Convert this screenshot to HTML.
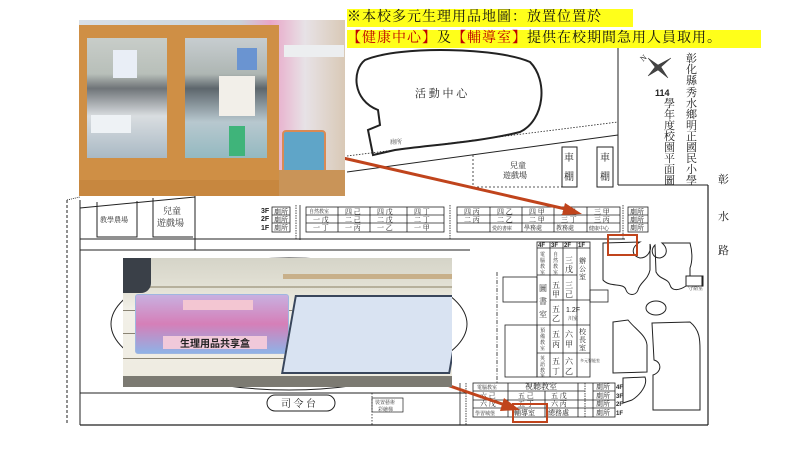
<!DOCTYPE html>
<html><head><meta charset="utf-8"><style>
html,body{margin:0;padding:0;background:#fff;}
body{width:800px;height:450px;position:relative;overflow:hidden;font-family:"Liberation Sans","Noto Sans CJK TC",sans-serif;}
svg{position:absolute;left:0;top:0;}
.hl{position:absolute;background:#ffff1a;font-family:"Liberation Serif","Noto Serif CJK SC",serif;font-size:14px;line-height:18px;color:#111;white-space:nowrap;letter-spacing:1px;}
.r{color:#c00000;}
.b{position:absolute;}
</style></head><body>
<svg width="800" height="450" viewBox="0 0 800 450" font-family="Liberation Serif, Noto Serif CJK SC, serif" fill="none" stroke="#222">
<path d="M365 60 C400 45,500 48,530 62 C548 80,545 120,520 132 C480 142,430 145,395 150 L373 155 L368 130 L380 125 L378 110 C352 100,352 70,365 60 Z" stroke-width="2"/>
<text x="415" y="97" font-size="11" fill="#222" stroke="none">活 動 中 心</text>
<text x="390" y="144" font-size="6" fill="#444" stroke="none">廁所</text>
<line x1="347" y1="156" x2="618" y2="122" stroke-dasharray="1.5,1.5" stroke-width="0.8"/>
<line x1="347" y1="172" x2="618" y2="135" stroke-width="1"/>
<line x1="618" y1="48" x2="618" y2="185" stroke-width="1"/>
<line x1="618" y1="185" x2="708" y2="185" stroke-width="1"/>
<line x1="708" y1="185" x2="708" y2="425" stroke-width="1.2"/>
<path d="M473 155 L473 187 L562 187" stroke-dasharray="2,2" stroke-width="0.8"/>
<text x="510" y="168" font-size="8" fill="#222" stroke="none">兒童</text>
<text x="503" y="178" font-size="8" fill="#222" stroke="none">遊戲場</text>
<rect x="562" y="147" width="15" height="40" stroke-width="1"/>
<rect x="597" y="147" width="16" height="40" stroke-width="1"/>
<text x="564" y="161" font-size="10" fill="#222" stroke="none">車</text>
<text x="564" y="180" font-size="10" fill="#222" stroke="none">棚</text>
<text x="600" y="161" font-size="10" fill="#222" stroke="none">車</text>
<text x="600" y="180" font-size="10" fill="#222" stroke="none">棚</text>
<g stroke="#333" fill="#444"><path d="M648 58 L658 65 L671 58 L661 67 L668 78 L658 70 L648 76 L655 67 Z" stroke-width="0.5"/></g>
<text x="640" y="60" font-size="8" fill="#222" stroke="none" transform="rotate(-40 644 57)">N</text>
<g font-size="11" fill="#222" stroke="none">
<text x="686" y="62">彰</text><text x="686" y="73">化</text><text x="686" y="84">縣</text><text x="686" y="96">秀</text><text x="686" y="107">水</text><text x="686" y="118">鄉</text><text x="686" y="129">明</text><text x="686" y="140">正</text><text x="686" y="151">國</text><text x="686" y="162">民</text><text x="686" y="173">小</text><text x="686" y="184">學</text>
<text x="655" y="96" font-family="Liberation Sans" font-weight="bold" font-size="9">114</text>
<text x="664" y="107">學</text><text x="664" y="118">年</text><text x="664" y="129">度</text><text x="664" y="140">校</text><text x="664" y="151">園</text><text x="664" y="162">平</text><text x="664" y="173">面</text><text x="664" y="184">圖</text>
<text x="718" y="183">彰</text><text x="718" y="220">水</text><text x="718" y="254">路</text>
</g>
<line x1="67" y1="200" x2="67" y2="425" stroke-dasharray="3,2" stroke-width="1"/>
<line x1="67" y1="200" x2="80" y2="197" stroke-dasharray="1,1" stroke-width="0.8"/>
<line x1="80" y1="208" x2="195" y2="197" stroke-width="1"/>
<line x1="80" y1="200" x2="80" y2="425" stroke-width="1"/>
<line x1="195" y1="195" x2="195" y2="250" stroke-width="1"/>
<line x1="80" y1="425" x2="708" y2="425" stroke-width="1.2"/>
<line x1="80" y1="250" x2="470" y2="250" stroke-width="1"/>
<line x1="80" y1="239" x2="625" y2="239" stroke-width="1"/>
<line x1="80" y1="393" x2="470" y2="393" stroke-width="1"/>
<path d="M97 202 L97 237 L137 237 L137 201" stroke-width="1"/>
<path d="M153 198 L153 237 L193 237" stroke-width="1"/>
<text x="100" y="222" font-size="7" fill="#333" stroke="none">教學農場</text>
<text x="163" y="214" font-size="9" fill="#333" stroke="none">兒童</text>
<text x="157" y="226" font-size="9" fill="#333" stroke="none">遊戲場</text>
<ellipse cx="289" cy="324" rx="178" ry="66" stroke-width="1"/>
<line x1="372" y1="393" x2="372" y2="425" stroke-dasharray="1.5,1.5" stroke-width="0.8"/>
<rect x="267" y="395" width="68" height="16" rx="8" stroke-width="1"/>
<text x="281" y="407" font-size="10" fill="#222" stroke="none">司 令 台</text>
<rect x="372" y="398" width="31" height="14" stroke-width="0.7"/>
<text x="375" y="404" font-size="5" fill="#333" stroke="none">裝置藝術</text>
<text x="378" y="411" font-size="5" fill="#333" stroke="none">彩繪梯</text>
<g font-size="7" fill="#222" stroke="none" font-family="Liberation Sans" font-weight="bold">
<text x="261" y="213">3F</text><text x="261" y="221">2F</text><text x="261" y="230">1F</text></g>
<g stroke-width="0.8">
<rect x="272" y="207" width="18" height="25"/>
<line x1="272" y1="215" x2="290" y2="215"/><line x1="272" y1="223" x2="290" y2="223"/>
<line x1="296" y1="205" x2="296" y2="240" stroke-dasharray="1.5,1"/>
<line x1="300" y1="205" x2="300" y2="240"/>
<rect x="306" y="207" width="138" height="25"/>
<line x1="306" y1="215" x2="444" y2="215"/><line x1="306" y1="223" x2="444" y2="223"/>
<line x1="338" y1="207" x2="338" y2="232"/><line x1="370" y1="207" x2="370" y2="232"/><line x1="407" y1="207" x2="407" y2="232"/>
<line x1="450" y1="205" x2="450" y2="240" stroke-dasharray="1.5,1"/>
<rect x="457" y="207" width="163" height="25"/>
<line x1="457" y1="215" x2="620" y2="215"/><line x1="457" y1="223" x2="620" y2="223"/>
<line x1="490" y1="207" x2="490" y2="232"/><line x1="522" y1="207" x2="522" y2="232"/><line x1="554" y1="207" x2="554" y2="232"/><line x1="587" y1="207" x2="587" y2="232"/>
<line x1="623" y1="205" x2="623" y2="240" stroke-dasharray="1.5,1"/>
<rect x="628" y="207" width="20" height="25"/>
<line x1="628" y1="215" x2="648" y2="215"/><line x1="628" y1="223" x2="648" y2="223"/>
</g>
<g font-size="7" fill="#222" stroke="none">
<text x="274" y="214">廁所</text><text x="274" y="222">廁所</text><text x="274" y="230">廁所</text>
<text x="309" y="213" font-size="5">自然教室</text><text x="345" y="214">四 己</text><text x="377" y="214">四 戊</text><text x="414" y="214">四 丁</text>
<text x="313" y="222">一 戊</text><text x="345" y="222">二 己</text><text x="377" y="222">二 戊</text><text x="414" y="222">二 丁</text>
<text x="313" y="230">一 丁</text><text x="345" y="230">一 丙</text><text x="377" y="230">一 乙</text><text x="414" y="230">一 甲</text>
<text x="464" y="214">四 丙</text><text x="497" y="214">四 乙</text><text x="529" y="214">四 甲</text><text x="561" y="214">三 乙</text><text x="594" y="214">三 甲</text>
<text x="464" y="222">二 丙</text><text x="497" y="222">二 乙</text><text x="529" y="222">二 甲</text><text x="561" y="222">三 丁</text><text x="594" y="222">三 丙</text>
<text x="492" y="230" font-size="5">愛的書庫</text><text x="524" y="230" font-size="6">學務處</text><text x="556" y="230" font-size="6">教務處</text><text x="589" y="230" font-size="5">健康中心</text>
<text x="630" y="214">廁所</text><text x="630" y="222">廁所</text><text x="630" y="230">廁所</text>
</g>
<g stroke-width="0.8">
<path d="M497 272 L497 383" stroke-dasharray="4,1.5,1,1.5"/>
<rect x="503" y="277" width="34" height="25"/><rect x="505" y="325" width="32" height="52"/>
<rect x="590" y="290" width="18" height="12"/>
<rect x="537" y="242" width="53" height="135"/>
<line x1="537" y1="248" x2="590" y2="248"/>
<line x1="550" y1="242" x2="550" y2="377"/><line x1="563" y1="242" x2="563" y2="377"/><line x1="577" y1="242" x2="577" y2="377"/>
<line x1="537" y1="275" x2="577" y2="275"/>
<line x1="550" y1="300" x2="590" y2="300"/>
<line x1="537" y1="325" x2="590" y2="325"/><line x1="537" y1="353" x2="590" y2="353"/>
</g>
<g font-size="6" fill="#222" stroke="none">
<text x="538" y="247" font-family="Liberation Sans" font-weight="bold">4F</text><text x="551" y="247" font-family="Liberation Sans" font-weight="bold">3F</text><text x="564" y="247" font-family="Liberation Sans" font-weight="bold">2F</text><text x="578" y="247" font-family="Liberation Sans" font-weight="bold">1F</text>
<text x="540" y="256" font-size="5">電</text><text x="540" y="262" font-size="5">腦</text><text x="540" y="268" font-size="5">教</text><text x="540" y="274" font-size="5">室</text>
<text x="553" y="256" font-size="5">自</text><text x="553" y="262" font-size="5">然</text><text x="553" y="268" font-size="5">教</text><text x="553" y="274" font-size="5">室</text>
<text x="565" y="263" font-size="8">三</text><text x="565" y="272" font-size="8">戊</text>
<text x="579" y="263" font-size="7">辦</text><text x="579" y="271" font-size="7">公</text><text x="579" y="279" font-size="7">室</text>
<text x="539" y="291" font-size="8">圖</text><text x="539" y="304" font-size="8">書</text><text x="539" y="317" font-size="8">室</text>
<text x="552" y="288" font-size="8">五</text><text x="552" y="297" font-size="8">甲</text>
<text x="565" y="288" font-size="8">三</text><text x="565" y="297" font-size="8">己</text>
<text x="552" y="312" font-size="8">五</text><text x="552" y="321" font-size="8">乙</text>
<text x="566" y="312" font-family="Liberation Sans" font-size="7">1.2F</text><text x="568" y="320" font-size="5">川室</text>
<text x="540" y="332" font-size="5">預</text><text x="540" y="338" font-size="5">備</text><text x="540" y="344" font-size="5">教</text><text x="540" y="350" font-size="5">室</text>
<text x="552" y="337" font-size="8">五</text><text x="552" y="347" font-size="8">丙</text>
<text x="565" y="337" font-size="8">六</text><text x="565" y="347" font-size="8">甲</text>
<text x="579" y="334" font-size="7">校</text><text x="579" y="342" font-size="7">長</text><text x="579" y="350" font-size="7">室</text>
<text x="540" y="360" font-size="5">英</text><text x="540" y="366" font-size="5">語</text><text x="540" y="372" font-size="5">教</text><text x="540" y="377" font-size="5">室</text>
<text x="552" y="364" font-size="8">五</text><text x="552" y="374" font-size="8">丁</text>
<text x="565" y="364" font-size="8">六</text><text x="565" y="374" font-size="8">乙</text>
<text x="580" y="362" font-size="4">多元智能室</text>
</g>
<g stroke-width="0.8">
<line x1="460" y1="383" x2="460" y2="425"/><line x1="466" y1="383" x2="466" y2="425" stroke-dasharray="1.5,1"/>
<rect x="473" y="383" width="142" height="34"/>
<line x1="473" y1="391" x2="585" y2="391"/><line x1="473" y1="400" x2="615" y2="400"/><line x1="473" y1="408" x2="615" y2="408"/>
<line x1="508" y1="383" x2="508" y2="417"/><line x1="545" y1="391" x2="545" y2="417"/><line x1="578" y1="383" x2="578" y2="417"/>
<line x1="585" y1="383" x2="585" y2="417" stroke-dasharray="1.5,1"/><line x1="593" y1="383" x2="593" y2="417"/>
<line x1="593" y1="391" x2="615" y2="391"/>
</g>
<g font-size="7" fill="#222" stroke="none">
<text x="477" y="389" font-size="5">電腦教室</text><text x="525" y="389" font-size="8">視聽教室</text>
<text x="480" y="398">六 己</text><text x="518" y="398">五 己</text><text x="551" y="398">五 戊</text>
<text x="480" y="406">六 戊</text><text x="518" y="406">五 丁</text><text x="551" y="406">六 丙</text>
<text x="475" y="415" font-size="5">學習城堡</text><text x="514" y="415">輔導室</text><text x="548" y="415">總務處</text>
<text x="596" y="389">廁所</text><text x="596" y="398">廁所</text><text x="596" y="406">廁所</text><text x="596" y="415">廁所</text>
<g font-family="Liberation Sans" font-weight="bold" font-size="6"><text x="616" y="389">4F</text><text x="616" y="398">3F</text><text x="616" y="406">2F</text><text x="616" y="415">1F</text></g>
</g>
<g stroke-width="1">
<path d="M603 243 L640 242 C630 248,632 256,640 258 C648 258,652 250,650 244 L650 270 C648 280,640 282,638 290 C636 296,628 296,626 290 C624 282,610 288,603 280 Z"/>
<path d="M655 245 C650 250,652 258,660 258 C668 256,668 248,662 243 L690 243 C692 250,693 260,690 268 L690 276 L703 276 L703 286 L686 286 C680 290,672 292,670 285 C668 278,660 280,656 272 Z"/>
<rect x="686" y="276" width="16" height="10"/>
<ellipse cx="656" cy="308" rx="10" ry="7"/>
<path d="M613 322 L628 320 C636 330,646 335,647 345 L647 372 L613 373 Z"/>
<path d="M652 323 L690 322 C700 330,700 340,700 350 L700 410 L653 410 L653 375 C662 372,662 362,654 360 Z"/>
<path d="M623 378 L645 377 C648 385,640 395,632 400 L623 403 Z"/>
</g>
<text x="688" y="290" font-size="5" fill="#333" stroke="none">守衛室</text>
<rect x="608" y="235" width="29" height="20" stroke="#c0441c" stroke-width="2"/>
<rect x="513" y="404" width="34" height="18" stroke="#c0441c" stroke-width="2"/>
<g stroke="#c0441c" stroke-width="3">
<line x1="330" y1="155" x2="570" y2="210"/>
<line x1="415" y1="374" x2="508" y2="406"/>
</g>
<polygon points="582,214 565,203 562,215" fill="#c0441c" stroke="none"/>
<polygon points="520,410 504,398 500,411" fill="#c0441c" stroke="none"/>
</svg>

<!-- photo 1 (cabinet) -->
<div class="b" style="left:79px;top:20px;width:266px;height:176px;background:linear-gradient(90deg,#d8dfe6 0%,#c9d3db 60%,#e9a6c8 72%,#e7e2e6 85%,#d9c9b6 100%);overflow:hidden;">
  <div class="b" style="left:0;top:5px;width:200px;height:160px;background:#cf8f45;"></div>
  <div class="b" style="left:8px;top:18px;width:80px;height:120px;background:linear-gradient(180deg,#c8cdc9 0%,#b8bfb9 30%,#6f7478 42%,#d9dde0 65%,#a9b9c4 100%);"></div>
  <div class="b" style="left:106px;top:18px;width:82px;height:120px;background:linear-gradient(180deg,#c7cdd0 0%,#aeb6b3 30%,#5d666c 42%,#b8c8cf 70%,#94b9c0 100%);"></div>
  <div class="b" style="left:34px;top:30px;width:24px;height:28px;background:#e9eef6;"></div>
  <div class="b" style="left:12px;top:95px;width:40px;height:18px;background:#eef2f5;"></div>
  <div class="b" style="left:140px;top:56px;width:36px;height:40px;background:#f2efe9;"></div>
  <div class="b" style="left:150px;top:106px;width:16px;height:30px;background:#3fb47a;"></div>
  <div class="b" style="left:158px;top:28px;width:20px;height:22px;background:#6a94d1;"></div>
  <div class="b" style="left:0;top:160px;width:200px;height:16px;background:#c7873f;"></div>
  <div class="b" style="left:203px;top:110px;width:40px;height:42px;background:#5fa5c8;border:2px solid #d98a55;border-radius:4px;"></div>
  <div class="b" style="left:200px;top:150px;width:66px;height:26px;background:#c99458;"></div>
  <div class="b" style="left:205px;top:25px;width:60px;height:12px;background:#eceef0;"></div>
</div>
<!-- photo 2 (box) -->
<div class="b" style="left:123px;top:258px;width:329px;height:129px;background:linear-gradient(180deg,#d5d4c8 0%,#e4e2d6 25%,#f2f0e8 40%,#eeebe0 100%);overflow:hidden;">
  <div class="b" style="left:0;top:28px;width:329px;height:2px;background:#b6b09c;"></div>
  <div class="b" style="left:160px;top:16px;width:169px;height:5px;background:#c8b08a;"></div>
  <div class="b" style="left:0;top:52px;width:329px;height:1px;background:#8a8474;"></div>
  <div class="b" style="left:0;top:75px;width:329px;height:1px;background:#8a8474;"></div>
  <div class="b" style="left:0;top:100px;width:329px;height:1px;background:#8a8474;"></div>
  <div class="b" style="left:0;top:0;width:28px;height:35px;background:#3a4048;border-radius:0 0 10px 0;"></div>
  <div class="b" style="left:0;top:118px;width:329px;height:11px;background:#7c7a72;"></div>
  <div class="b" style="left:12px;top:36px;width:152px;height:58px;background:linear-gradient(180deg,#c8b0e0,#d57fb8 50%,#8fb2e6);border:1px solid #9fb6e0;border-radius:3px;"></div>
  <div class="b" style="left:60px;top:42px;width:70px;height:10px;background:#f3c6d2;"></div>
  <div class="b" style="left:40px;top:78px;width:104px;height:13px;background:#f1c9da;font:bold 10px 'Noto Sans CJK TC',sans-serif;color:#222;text-align:center;line-height:13px;">生理用品共享盒</div>
  <div class="b" style="left:165px;top:37px;width:165px;height:75px;background:#d9e3f2;border:2px solid #39465c;transform:skewX(-10deg);"></div>
</div>

<div class="hl" style="left:347px;top:9px;width:286px;">※本校多元生理用品地圖：放置位置於</div>
<div class="hl" style="left:347px;top:30px;width:414px;"><span class="r">【健康中心】</span>及<span class="r">【輔導室】</span>提供在校期間急用人員取用。</div>
</body></html>
